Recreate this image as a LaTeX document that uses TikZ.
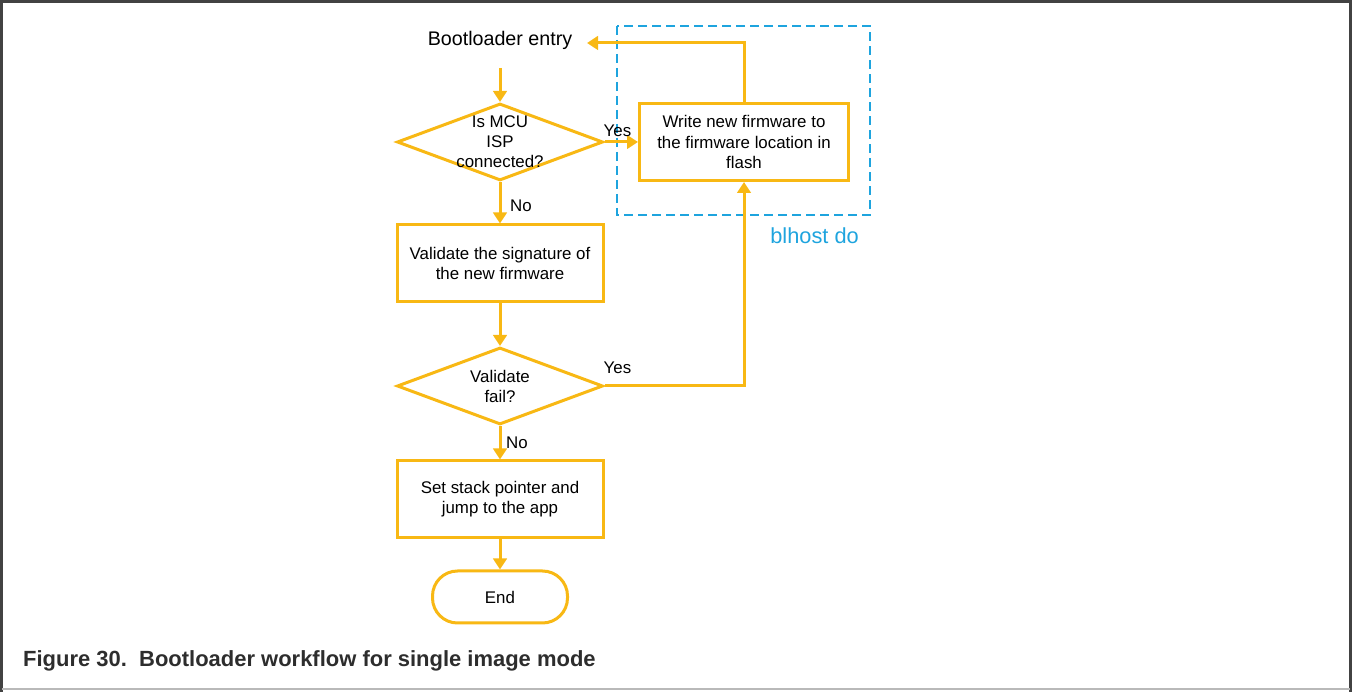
\documentclass[tikz,border=0pt]{standalone}
\usepackage{fontspec}
\setmainfont{Liberation Sans}
\usepackage{tikz}
\usetikzlibrary{calc,shapes.geometric,arrows.meta,positioning}
\usepackage{xcolor}
\definecolor{flowyellow}{RGB}{248,184,20}
\definecolor{blhostblue}{RGB}{30,164,222}
\definecolor{captiongray}{RGB}{45,45,45}

\begin{document}
\begin{tikzpicture}[>={Triangle[length=0.22cm,width=0.27cm]}, flow/.style={draw=flowyellow, line width=0.06cm}, every node/.style={font=\fontsize{9.6}{11.4}\selectfont}]
% Define styles for blocks, decisions, terminator and tags
\tikzstyle{block} = [draw=flowyellow, fill=white, rectangle, line width=0.06cm, minimum height=1.54cm, minimum width=4.12cm, align=center]
\tikzstyle{decision} = [draw=flowyellow, fill=white, diamond, line width=0.06cm, minimum height=1.54cm, minimum width=4.12cm, inner sep=0pt]
\tikzstyle{term} = [draw=flowyellow, fill=white, rectangle, line width=0.06cm, minimum height=1.04cm, minimum width=2.7cm, rounded corners=0.5cm]
\tikzstyle{tag} = [inner sep=1pt]

\useasboundingbox (0,0) rectangle (27.04,-13.84);

% Page frame
\draw[captiongray!90, line width=0.06cm] (0.04,-13.84) -- (0.04,-0.04) -- (27.0,-0.04) -- (27.0,-13.84);
\draw[gray!55, line width=0.04cm] (0.04,-13.78) -- (27.0,-13.78);

% Nodes placement
\node (entry) at (10.0,-0.8) {\fontsize{11.2}{13}\selectfont Bootloader entry};
\coordinate (entrystart) at (10.0,-1.36);
\coordinate (entryback) at (11.74,-0.86);
\node [decision, below of=entry, node distance=2.04cm] (isp) {};
\node [align=center] at (isp) (isptext) {Is MCU\\ISP\\connected?};
\node [block, right of=isp, node distance=4.88cm, minimum width=4.18cm] (write) {Write new firmware to\\the firmware location in\\flash};
\node [block, below of=isp, node distance=2.43cm] (validate) {Validate the signature of\\the new firmware};
\node [decision, below of=validate, node distance=2.45cm] (fail) {};
\node [align=center] at (fail) (failtext) {Validate\\fail?};
\node [block, below of=fail, node distance=2.27cm] (setsp) {Set stack pointer and\\jump to the app};
\node [term, below of=setsp, node distance=1.95cm] (done) {End};

% blhost region
\draw[blhostblue, line width=0.05cm, dash pattern=on 0.18cm off 0.1cm] (12.34,-0.52) rectangle (17.4,-4.3);
\node [anchor=east, text=blhostblue, font=\fontsize{12.4}{14}\selectfont] at (17.3,-4.72) (blhost) {blhost do};

% Draw edges
\draw[flow,->] (entrystart) -- (isp.north);
\draw[flow,->] (isp.east) -- (write.west);
\draw[flow,->] (isp.south) -- (validate.north);
\draw[flow,->] (validate.south) -- (fail.north);
\draw[flow,->] (fail.south) -- (setsp.north);
\draw[flow,->] (setsp.south) -- (done.north);
\draw[flow,->] (fail.east) -| (write.south);
\draw[flow,->] (write.north) |- (entryback);

% Branch tags
\node [tag] at ($(isp.east)+(0.26,0.22)$) (yesisp) {Yes};
\node [tag] at ($(isp.south)+(0.42,-0.48)$) (noisp) {No};
\node [tag] at ($(fail.east)+(0.26,0.36)$) (yesfail) {Yes};
\node [tag] at ($(fail.south)+(0.34,-0.34)$) (nofail) {No};

% Caption
\node [anchor=west, text=captiongray, font=\bfseries\fontsize{12.5}{14}\selectfont] at (0.34,-13.22) (caption) {Figure 30.\ \ Bootloader workflow for single image mode};

\end{tikzpicture}
\end{document}
